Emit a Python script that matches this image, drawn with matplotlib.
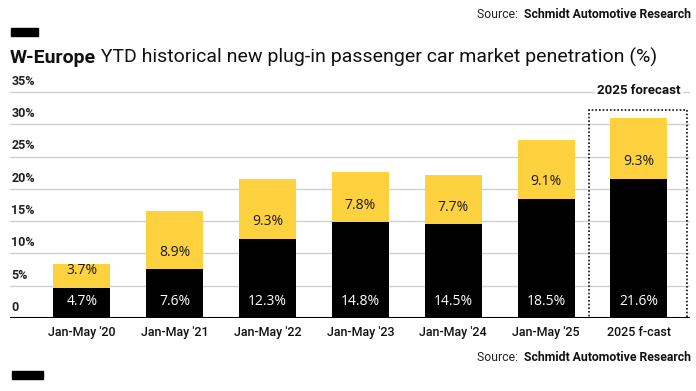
import matplotlib
matplotlib.use("Agg")
import matplotlib.pyplot as plt
from matplotlib.patches import Rectangle

categories = ["Jan-May '20", "Jan-May '21", "Jan-May '22", "Jan-May '23",
              "Jan-May '24", "Jan-May '25", "2025 f-cast"]
bev = [4.7, 7.6, 12.3, 14.8, 14.5, 18.5, 21.6]
phev = [3.7, 8.9, 9.3, 7.8, 7.7, 9.1, 9.3]
yticks = [0, 5, 10, 15, 20, 25, 30, 35]
ytick_labels = ["0", "5%", "10%", "15%", "20%", "25%", "30%", "35%"]

YELLOW = "#FDD23E"
BLACK = "#000000"

W, H = 696, 391
fig = plt.figure(figsize=(W / 100, H / 100), dpi=100)
fig.patch.set_facecolor("white")

ax_left, ax_right = 10 / W, 690 / W
ax_bottom = (H - 318) / H
ax_top = (H - 85.5) / H
ax = fig.add_axes([ax_left, ax_bottom, ax_right - ax_left, ax_top - ax_bottom])
ax.set_xlim(-0.774, 6.55)
ax.set_ylim(0, 36)
for s in ax.spines.values():
    s.set_visible(False)
ax.set_xticks([])
ax.set_yticks([])

x = list(range(len(categories)))
for v, lab in zip(yticks, ytick_labels):
    if v > 0:
        ax.axhline(v, color="#cfcfcf", lw=1.0, zorder=0)
    ax.annotate(lab, xy=(-0.774, v), xytext=(1, 3), textcoords="offset points",
                ha="left", va="bottom", fontsize=9, fontweight="bold",
                family="Roboto", color="#222222")

bw = 0.615
ax.bar(x, bev, width=bw, color=BLACK, zorder=3)
ax.bar(x, phev, bottom=bev, width=bw, color=YELLOW, zorder=3)

for xi, b, p in zip(x, bev, phev):
    ax.text(xi, 2.5, f"{b}%", ha="center", va="center", color="white",
            fontsize=10, family="Open Sans", fontweight="medium", zorder=5)
    ax.text(xi, b + 2.6, f"{p}%", ha="center", va="center", color="#1a1a1a",
            fontsize=10, family="Open Sans", fontweight="medium", zorder=5)

ax.axhline(0, color="black", lw=2.2, zorder=6)

ax.add_patch(Rectangle((5.46, 0), 1.06, 32.2, fill=False, ls=(0, (1, 1.2)),
                       lw=1.2, ec="#111111", zorder=4))
ax.text(6.0, 35.3, "2025 forecast", ha="center", va="center", fontsize=9.5,
        family="Roboto", fontweight="bold", color="#111111", zorder=5,
        bbox=dict(facecolor="white", edgecolor="none", pad=1.5))

for xi, c in zip(x, categories):
    ax.annotate(c, xy=(xi, 0), xytext=(0, -10.5), textcoords="offset points",
                ha="center", va="center", fontsize=9, family="Roboto",
                fontweight="medium", color="#111111")

t1 = fig.text(10 / W, 1 - 63 / H, "W-Europe", ha="left", va="baseline",
              fontsize=14, fontweight="bold", family="Roboto", color="#111111")
ax.annotate(" YTD historical new plug-in passenger car market penetration (%)",
            xy=(1, 0), xycoords=t1, ha="left", va="bottom", fontsize=14,
            family="Roboto", color="#111111", annotation_clip=False)

def source(ybase):
    t = fig.text(691 / W, 1 - ybase / H, "Schmidt Automotive Research", ha="right",
                 va="baseline", fontsize=8.8, fontweight="bold", family="Roboto",
                 color="#111111")
    ax.annotate("Source:  ", xy=(0, 0), xycoords=t, ha="right", va="bottom",
                fontsize=8.8, family="Roboto", color="#222222",
                annotation_clip=False)

source(18)
source(361)

fig.patches.append(Rectangle((11 / W, 1 - 36 / H), 27 / W, 8 / H,
                             transform=fig.transFigure, color="black"))
fig.patches.append(Rectangle((12 / W, 1 - 379 / H), 31 / W, 8 / H,
                             transform=fig.transFigure, color="black"))

fig.savefig("out.png", dpi=100)
